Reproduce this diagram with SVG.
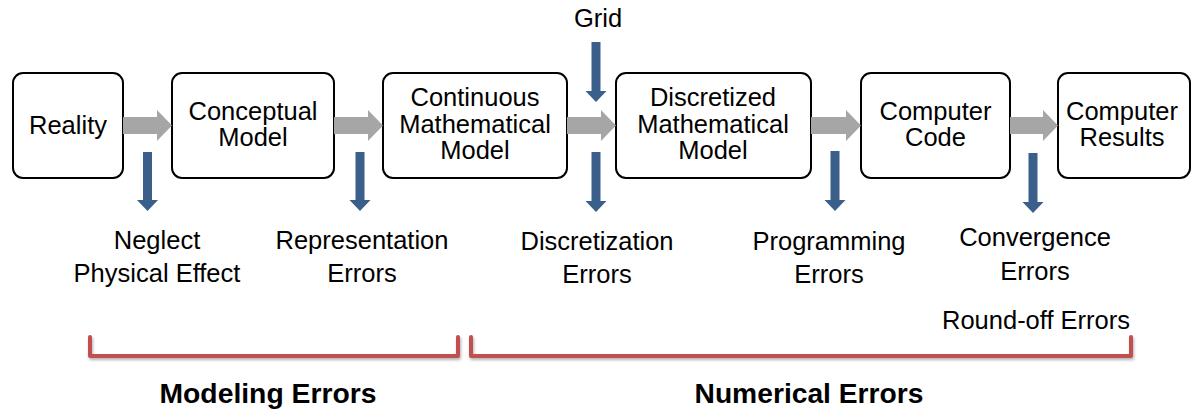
<svg xmlns="http://www.w3.org/2000/svg" width="1192" height="412" viewBox="0 0 1192 412">
  <defs>
    <style>
      .box { fill: #ffffff; stroke: #000000; stroke-width: 2; }
      .t { font-family: "Liberation Sans", Arial, sans-serif; font-size: 25.5px; fill: #000000; text-anchor: middle; }
      .tb { font-family: "Liberation Sans", Arial, sans-serif; font-size: 27px; font-weight: bold; fill: #000000; text-anchor: middle; }
      .flow { fill: #A6A6A6; }
      .err { fill: #3A5F8B; }
      .brace { fill: none; stroke: #C0504D; stroke-width: 4; stroke-linejoin: round; stroke-linecap: round; filter: url(#shadow); }
    </style>
    <filter id="shadow" x="-5%" y="-50%" width="110%" height="200%">
      <feDropShadow dx="1" dy="2" stdDeviation="1.5" flood-color="#000000" flood-opacity="0.3"/>
    </filter>
  </defs>

  <rect width="1192" height="412" fill="#ffffff"/>

  <!-- process boxes -->
  <g id="reality">
    <rect class="box" x="13" y="73" width="110" height="105" rx="10"/>
    <text class="t" x="68" y="134">Reality</text>
  </g>
  <g id="conceptual-model">
    <rect class="box" x="172" y="73" width="162" height="105" rx="10"/>
    <text class="t" x="253" y="120">Conceptual</text>
    <text class="t" x="253" y="146">Model</text>
  </g>
  <g id="continuous-model">
    <rect class="box" x="383" y="73" width="184" height="105" rx="10"/>
    <text class="t" x="475" y="106">Continuous</text>
    <text class="t" x="475" y="133">Mathematical</text>
    <text class="t" x="475" y="159">Model</text>
  </g>
  <g id="discretized-model">
    <rect class="box" x="616" y="73" width="195" height="105" rx="10"/>
    <text class="t" x="713" y="106">Discretized</text>
    <text class="t" x="713" y="133">Mathematical</text>
    <text class="t" x="713" y="159">Model</text>
  </g>
  <g id="computer-code">
    <rect class="box" x="861" y="73" width="149" height="105" rx="10"/>
    <text class="t" x="935.5" y="120">Computer</text>
    <text class="t" x="935.5" y="146">Code</text>
  </g>
  <g id="computer-results">
    <rect class="box" x="1058" y="73" width="132" height="105" rx="10"/>
    <text class="t" x="1122" y="120">Computer</text>
    <text class="t" x="1122" y="146">Results</text>
  </g>

  <!-- input / error labels -->
  <g id="grid">
    <text class="t" x="598" y="27">Grid</text>
  </g>
  <g id="neglect-physical-effect">
    <text class="t" x="157" y="249">Neglect</text>
    <text class="t" x="157" y="282">Physical Effect</text>
  </g>
  <g id="representation-errors">
    <text class="t" x="362" y="249">Representation</text>
    <text class="t" x="362" y="282">Errors</text>
  </g>
  <g id="discretization-errors">
    <text class="t" x="597" y="250">Discretization</text>
    <text class="t" x="597" y="283">Errors</text>
  </g>
  <g id="programming-errors">
    <text class="t" x="829" y="250">Programming</text>
    <text class="t" x="829" y="283">Errors</text>
  </g>
  <g id="convergence-errors">
    <text class="t" x="1035" y="246">Convergence</text>
    <text class="t" x="1035" y="280">Errors</text>
  </g>
  <g id="round-off-errors">
    <text class="t" x="1036" y="329">Round-off Errors</text>
  </g>

  <!-- connectors -->
  <g id="connectors">
    <!-- main flow (grey block arrows) -->
    <polygon class="flow" points="123,117 157,117 157,110 172,125.5 157,141 157,134 123,134"/>
    <polygon class="flow" points="334,117 368,117 368,110 383,125.5 368,141 368,134 334,134"/>
    <polygon class="flow" points="567,117 601,117 601,110 616,125.5 601,141 601,134 567,134"/>
    <polygon class="flow" points="811,117 846,117 846,110 861,125.5 846,141 846,134 811,134"/>
    <polygon class="flow" points="1010,117 1043,117 1043,110 1058,125.5 1043,141 1043,134 1010,134"/>
    <!-- error sources (blue down arrows) -->
    <polygon class="err" points="143,152 152,152 152,200 158,200 147.5,211 137,200 143,200"/>
    <polygon class="err" points="355.5,152 364.5,152 364.5,200 370.5,200 360,211 349.5,200 355.5,200"/>
    <polygon class="err" points="591.5,42 600.5,42 600.5,91 606.5,91 596,102 585.5,91 591.5,91"/>
    <polygon class="err" points="591.5,152 600.5,152 600.5,201 606.5,201 596,212 585.5,201 591.5,201"/>
    <polygon class="err" points="830.5,151 839.5,151 839.5,200 845.5,200 835,211 824.5,200 830.5,200"/>
    <polygon class="err" points="1028.5,153 1037.5,153 1037.5,202 1043.5,202 1033,213 1022.5,202 1028.5,202"/>
  </g>

  <!-- grouping brackets -->
  <g id="modeling-errors">
    <path class="brace" d="M90,337 V356 H458 V337"/>
    <text class="tb" x="268" y="403" textLength="217" lengthAdjust="spacingAndGlyphs">Modeling Errors</text>
  </g>
  <g id="numerical-errors">
    <path class="brace" d="M471,337 V356 H1131 V337"/>
    <text class="tb" x="809" y="403" textLength="229" lengthAdjust="spacingAndGlyphs">Numerical Errors</text>
  </g>
</svg>
